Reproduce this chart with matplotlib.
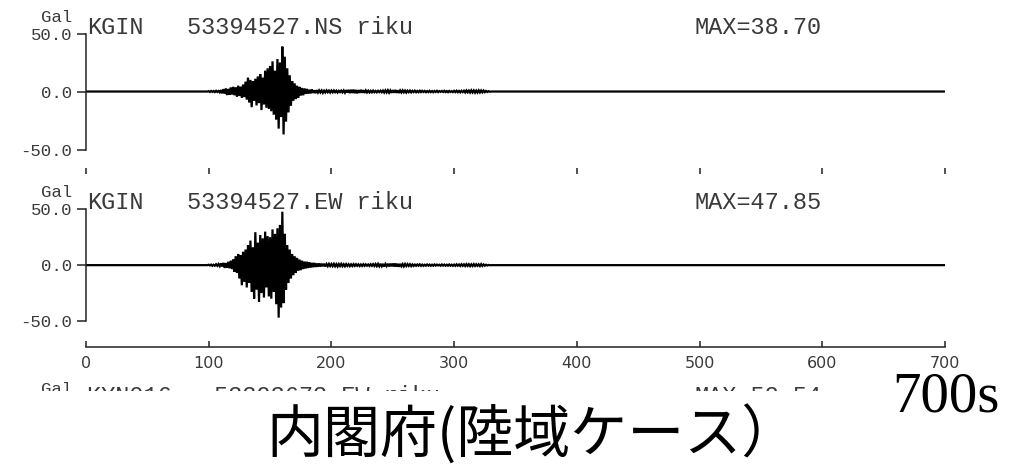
import numpy as np
import matplotlib.pyplot as plt
from matplotlib.patches import Rectangle
from matplotlib.transforms import offset_copy

# record length and sampling (1 s), active part of each trace starts at 100 s
t_end = 700
t_start = 100

stations = ["KGIN", "KGIN"]
channels = ["53394527.NS riku", "53394527.EW riku"]

# NS component, 100 s .. 330 s  (Gal)
ns_wave = [
    0.3, -0.4, 0.5, -0.3, 0.4, -0.5, 0.6, -0.4, 0.5, -0.7,
    1.2, -1.5, 2.0, -1.8, 2.5, -3.0, 2.2, -2.8, 3.5, -2.6,
    4.0, -3.2, 3.6, -4.5, 5.0, -3.8, 4.2, -5.5, 6.0, -4.8,
    8.5, -7.0, 12.0, -9.5, 10.0, -13.5, 9.0, -8.0, 11.0, -12.0,
    13.0, -10.0, 15.0, -16.0, 12.0, -11.0, 18.0, -14.0, 20.0, -15.0,
    22.0, -17.0, 26.0, -20.0, 18.0, -24.0, 28.0, -32.0, 25.0, -22.0,
    38.70, -37.0, 30.0, -26.0, 20.0, -18.0, 14.0, -12.0, 9.0, -8.0,
    7.0, -6.5, 5.0, -5.5, 4.0, -3.5, 3.0, -3.2, 2.5, -2.0,
    2.2, -1.8, 1.5, -1.6, 1.8, -1.2, 1.0, -1.4, 1.2, -0.9,
    1.0, -0.8, 0.9, -1.1, 0.7, -0.8, 1.0, -0.6, 0.8, -0.9,
    0.8, -0.7, 0.9, -0.6, 0.7, -0.9, 0.6, -0.5, 0.8, -0.7,
    0.9, -1.0, 1.2, -0.9, 1.4, -1.3, 1.5, -1.2, 1.6, -1.4,
    1.3, -1.5, 1.2, -1.1, 1.4, -1.0, 1.1, -1.2, 0.9, -0.8,
    0.7, -0.8, 0.6, -0.7, 0.8, -0.6, 0.5, -0.7, 0.6, -0.5,
    0.7, -0.6, 0.8, -0.9, 1.0, -0.8, 1.1, -1.0, 0.9, -1.1,
    1.2, -1.0, 1.3, -1.1, 1.0, -1.2, 0.9, -0.8, 1.0, -0.7,
    0.8, -0.9, 0.7, -0.6, 0.8, -0.7, 0.6, -0.5, 0.7, -0.6,
    0.5, -0.6, 0.7, -0.5, 0.6, -0.4, 0.5, -0.6, 0.4, -0.5,
    0.6, -0.5, 0.4, -0.6, 0.5, -0.4, 0.6, -0.5, 0.4, -0.3,
    0.5, -0.4, 0.6, -0.5, 0.4, -0.6, 0.5, -0.4, 0.3, -0.5,
    0.6, -0.5, 0.7, -0.6, 0.5, -0.7, 0.6, -0.5, 0.7, -0.8,
    0.9, -0.7, 0.8, -0.9, 1.0, -0.8, 0.9, -1.0, 0.8, -0.9,
    1.0, -0.8, 0.9, -0.7, 0.8, -0.6, 0.5, -0.4, 0.3, -0.2,
    0.0,
]

# EW component, 100 s .. 330 s  (Gal)
ew_wave = [
    0.4, -0.3, 0.5, -0.6, 0.4, -0.5, 0.8, -0.6, 1.0, -0.9,
    1.5, -1.2, 2.0, -2.5, 1.8, -2.2, 3.0, -2.8, 4.0, -3.5,
    5.0, -6.0, 8.0, -7.0, 10.0, -12.0, 9.0, -18.0, 12.0, -15.0,
    14.0, -20.0, 18.0, -16.0, 22.0, -24.0, 16.0, -30.0, 29.5, -22.0,
    20.0, -33.0, 27.0, -25.0, 24.0, -29.0, 30.0, -20.0, 26.0, -28.0,
    25.0, -30.0, 32.0, -24.0, 28.0, -35.0, 33.0, -47.0, 36.0, -38.0,
    47.85, -34.0, 28.0, -22.0, 18.0, -16.0, 14.0, -12.0, 10.0, -9.0,
    8.0, -7.0, 6.5, -5.0, 5.0, -4.5, 4.0, -3.5, 3.2, -3.0,
    3.0, -2.5, 2.6, -2.2, 2.0, -1.8, 2.0, -1.6, 1.5, -1.4,
    1.5, -1.2, 1.3, -1.0, 1.2, -1.1, 1.0, -0.9, 1.1, -0.8,
    1.0, -0.9, 1.1, -1.0, 0.9, -1.2, 1.0, -0.8, 1.1, -0.9,
    0.8, -1.0, 0.9, -0.7, 0.8, -0.9, 0.7, -0.8, 0.9, -0.7,
    0.8, -0.6, 0.7, -0.8, 0.6, -0.7, 0.8, -0.6, 0.7, -0.5,
    0.6, -0.7, 0.8, -0.6, 0.9, -0.8, 1.0, -0.9, 1.1, -1.0,
    1.2, -1.0, 1.1, -1.3, 1.0, -0.9, 1.2, -1.1, 1.3, -1.0,
    1.4, -1.2, 1.5, -1.3, 1.2, -1.4, 1.1, -1.0, 0.9, -1.1,
    1.0, -0.8, 0.9, -0.7, 0.8, -0.9, 0.6, -0.7, 0.5, -0.6,
    0.6, -0.5, 0.7, -0.6, 0.5, -0.6, 0.4, -0.5, 0.6, -0.4,
    0.5, -0.6, 0.4, -0.5, 0.6, -0.4, 0.5, -0.3, 0.4, -0.5,
    0.6, -0.4, 0.5, -0.6, 0.4, -0.5, 0.6, -0.5, 0.4, -0.6,
    0.5, -0.6, 0.7, -0.5, 0.6, -0.7, 0.8, -0.6, 0.7, -0.8,
    0.9, -0.7, 0.8, -0.9, 0.7, -0.8, 0.9, -0.7, 0.8, -0.6,
    0.7, -0.8, 0.9, -0.7, 0.6, -0.5, 0.4, -0.3, 0.2, -0.1,
    0.0,
]

xticks = [0, 100, 200, 300, 400, 500, 600, 700]
yticks = [-50, 0, 50]
ytick_labels = ["-50.0", "0.0", "50.0"]

MONO = "Liberation Mono"
INK = "#222222"
TXT = "#3a3a3a"


def full_trace(active):
    # pad the active part with zeros out to the full record length
    active = np.asarray(active, dtype=float)
    before = np.zeros(t_start)
    after = np.zeros(t_end + 1 - t_start - len(active))
    return np.concatenate([before, active, after])


def draw_trace(ax, wave, station, channel, ylow, show_xlabels):
    t = np.arange(0, t_end + 1)
    y = full_trace(wave)
    ax.plot(t, y, color="black", lw=1.6, solid_joinstyle="miter")
    ax.set_xlim(0, t_end)
    ax.set_ylim(ylow, 50)

    for s in ["top", "right"]:
        ax.spines[s].set_visible(False)
    ax.spines["left"].set_bounds(-50, 50)
    ax.spines["left"].set_color(INK)
    ax.spines["left"].set_linewidth(1.1)
    ax.spines["bottom"].set_color(INK)
    ax.spines["bottom"].set_linewidth(1.1)

    ax.set_yticks(yticks)
    ax.set_yticklabels(ytick_labels, fontfamily=MONO, fontsize=12.5, color=TXT)
    ax.tick_params(axis="y", direction="out", length=6.5, width=1.1, pad=3.5, colors=INK,
                   labelcolor=TXT)

    ax.set_xticks(xticks)
    ax.tick_params(axis="x", direction="in", length=4.5, width=1.1, pad=7, colors=INK,
                   labelcolor=TXT, labelsize=11.5)
    if not show_xlabels:
        ax.tick_params(axis="x", labelbottom=False)
        ax.spines["bottom"].set_visible(False)

    trans = ax.get_xaxis_transform()
    ax.text(0.8, 1.0, station, transform=trans, fontfamily=MONO, fontsize=17,
            color=TXT, va="baseline", ha="left")
    ax.text(82, 1.0, channel, transform=trans, fontfamily=MONO, fontsize=17,
            color=TXT, va="baseline", ha="left")
    ax.text(496, 1.0, f"MAX={np.abs(y).max():.2f}", transform=trans, fontfamily=MONO,
            fontsize=17, color=TXT, va="baseline", ha="left")
    # unit label sits above the top tick label
    gal_trans = offset_copy(ax.transAxes, fig=ax.figure, x=0, y=9, units="dots")
    ax.text(-0.016, 1.0, "Gal", transform=gal_trans, fontfamily=MONO, fontsize=12.5,
            color=TXT, va="bottom", ha="right")


fig = plt.figure(figsize=(10.2, 4.68), dpi=100)
fig.patch.set_facecolor("white")

ax1 = fig.add_axes([0.0843, 0.6282, 0.8422, 0.3002])
ax2 = fig.add_axes([0.0843, 0.2592, 0.8422, 0.2936])
ax1.patch.set_alpha(0)
ax2.patch.set_alpha(0)

draw_trace(ax1, ns_wave, stations[0], channels[0], -71.1, False)
draw_trace(ax2, ew_wave, stations[1], channels[1], -73.0, True)

# header of the next trace, cut off under the caption
fig.text(72 / 1020, 1 - 394 / 468, "Gal", fontfamily=MONO, fontsize=12.5, color=TXT,
         ha="right", va="baseline", zorder=1)
fig.text(87 / 1020, 1 - 403 / 468, "KYN016   53393673.EW riku", fontfamily=MONO,
         fontsize=17, color=TXT, ha="left", va="baseline", zorder=1)
fig.text(695 / 1020, 1 - 403 / 468, "MAX=52.54", fontfamily=MONO, fontsize=17,
         color=TXT, ha="left", va="baseline", zorder=1)
fig.add_artist(Rectangle((0, 0), 1, 1 - 391 / 468, transform=fig.transFigure,
                         facecolor="white", edgecolor="none", zorder=5))

fig.text(892 / 1020, 1 - 412 / 468, "700s", fontfamily="Liberation Serif", fontsize=41,
         color="black", ha="left", va="baseline", zorder=10)
fig.text(533 / 1020, 1 - 436 / 468, "内閣府(陸域ケース）",
         fontfamily=["Noto Sans CJK JP", "DejaVu Sans"], fontsize=41, color="black",
         ha="center", va="center", zorder=10)

fig.savefig("out.png", dpi=100, facecolor="white")
